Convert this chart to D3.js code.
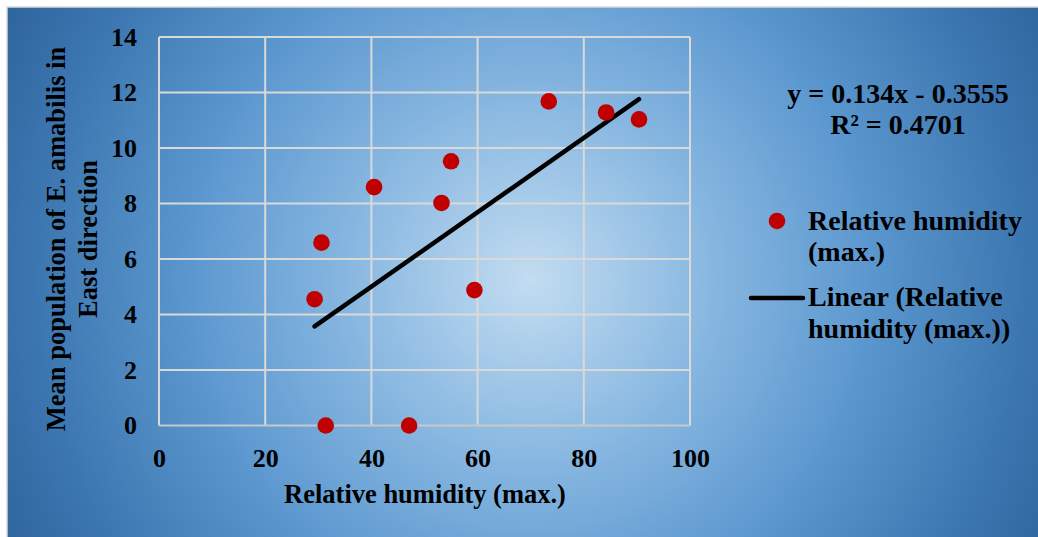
<!DOCTYPE html>
<html><head><meta charset="utf-8">
<script src="https://cdn.jsdelivr.net/npm/d3@7"></script>
<style>body{margin:0;background:#fff}svg{display:block}text{font-family:"Liberation Serif","Times New Roman",serif;font-weight:bold;fill:#000}</style>
</head><body><svg id="c" width="1038" height="537"></svg>
<script>
const humidity = [73.4, 84.2, 90.4, 55.0, 40.5, 53.2, 30.6, 29.3, 59.4, 31.4, 47.1];
const population = [11.68, 11.28, 11.03, 9.52, 8.59, 8.02, 6.59, 4.55, 4.88, 0, 0];
const xTicks = [0, 20, 40, 60, 80, 100];
const yTicks = [0, 2, 4, 6, 8, 10, 12, 14];
const trendSlope = [0.134];
const trendIntercept = [-0.3555];
const equationLines = ["y = 0.134x - 0.3555", "R² = 0.4701"];
const legendLabels = [["Relative humidity", "(max.)"], ["Linear (Relative", "humidity (max.))"]];
const xTitle = "Relative humidity (max.)";
const yTitle = ["Mean population of E. amabilis in", "East direction"];

const svg = d3.select("#c");
const defs = svg.append("defs");
const g = defs.append("radialGradient").attr("id","bg").attr("gradientUnits","userSpaceOnUse")
  .attr("cx",530).attr("cy",280).attr("r",620);
[[0,"#c2dcf1"],[0.3,"#86b6e0"],[0.55,"#5b97cf"],[0.8,"#3c76b0"],[1,"#2a5f97"]].forEach(s=>g.append("stop").attr("offset",s[0]).attr("stop-color",s[1]));
svg.append("rect").attr("x",7).attr("y",7).attr("width",1040).attr("height",540).attr("fill","url(#bg)").attr("stroke","#d9d9d9").attr("stroke-width",1.5);

const x = d3.scaleLinear().domain([0,100]).range([159,690]);
const y = d3.scaleLinear().domain([0,14]).range([425.5,37]);

// grid
svg.append("g").selectAll("line").data(xTicks).join("line")
  .attr("x1",d=>x(d)).attr("x2",d=>x(d)).attr("y1",y(0)).attr("y2",y(14))
  .attr("stroke","#d9d9d9").attr("stroke-width",2);
svg.append("g").selectAll("line").data(yTicks).join("line")
  .attr("x1",x(0)).attr("x2",x(100)).attr("y1",d=>y(d)).attr("y2",d=>y(d))
  .attr("stroke",d=>d===0?"#c8c8c8":"#d9d9d9").attr("stroke-width",2);

// axes (labels only)
const xa = svg.append("g").attr("transform",`translate(0,${y(0)})`).call(d3.axisBottom(x).tickValues(xTicks).tickSize(0).tickPadding(23));
const ya = svg.append("g").attr("transform",`translate(${x(0)-22},0)`).call(d3.axisLeft(y).tickValues(yTicks).tickSize(0).tickPadding(0));
[xa,ya].forEach(a=>{a.select(".domain").remove();a.selectAll("text").style("font-size","26px").style("font-family","Liberation Serif").style("font-weight","bold").attr("fill","#000");});

// trendline
const xmin = d3.min(humidity), xmax = d3.max(humidity);
svg.append("line").attr("x1",x(xmin)).attr("x2",x(xmax))
  .attr("y1",y(trendSlope[0]*xmin+trendIntercept[0])).attr("y2",y(trendSlope[0]*xmax+trendIntercept[0]))
  .attr("stroke","#000").attr("stroke-width",4.5).attr("stroke-linecap","round");

// points
svg.append("g").selectAll("circle").data(humidity.map((h,i)=>[h,population[i]])).join("circle")
  .attr("cx",d=>x(d[0])).attr("cy",d=>y(d[1])).attr("r",8.3).attr("fill","#c00000");

// titles
svg.append("text").attr("x",425).attr("y",503).attr("text-anchor","middle").style("font-size","26.5px").text(xTitle);
const yt = svg.append("text").attr("transform","translate(0,239) rotate(-90)").attr("text-anchor","middle").style("font-size","26.5px");
yTitle.forEach((t,i)=>yt.append("tspan").attr("x",0).attr("y",i===0?65:97).text(t));

// equation
equationLines.forEach((t,i)=>svg.append("text").attr("x",898).attr("y",i===0?103:134).attr("text-anchor","middle").style("font-size","28px").text(t));

// legend
svg.append("circle").attr("cx",777).attr("cy",221).attr("r",8.3).attr("fill","#c00000");
svg.append("line").attr("x1",751).attr("x2",803).attr("y1",298).attr("y2",298).attr("stroke","#000").attr("stroke-width",4.5).attr("stroke-linecap","round");
const lb=[[230,261],[306,338]];
legendLabels.forEach((ls,i)=>ls.forEach((t,j)=>svg.append("text").attr("x",808).attr("y",lb[i][j]).style("font-size","28px").text(t)));
</script></body></html>
